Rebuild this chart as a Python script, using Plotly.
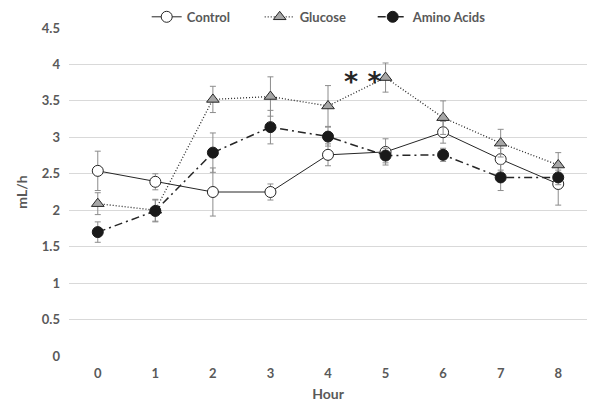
import plotly.graph_objects as go

hours = [0, 1, 2, 3, 4, 5, 6, 7, 8]

control = [2.54, 2.39, 2.25, 2.25, 2.76, 2.80, 3.07, 2.70, 2.36]
control_err = [0.27, 0.11, 0.33, 0.11, 0.15, 0.18, 0.15, 0.15, 0.29]

glucose = [2.09, 2.00, 3.52, 3.56, 3.43, 3.82, 3.27, 2.92, 2.62]
glucose_err = [0.15, 0.15, 0.18, 0.27, 0.28, 0.20, 0.23, 0.19, 0.17]

amino = [1.70, 1.99, 2.79, 3.14, 3.01, 2.75, 2.76, 2.45, 2.45]
amino_err = [0.14, 0.15, 0.27, 0.23, 0.13, 0.10, 0.09, 0.18, 0.10]

y_ticks = [0, 0.5, 1, 1.5, 2, 2.5, 3, 3.5, 4, 4.5]
y_ticktext = ["0", "0.5", "1", "1.5", "2", "2.5", "3", "3.5", "4", "4.5"]

font_family = "Lato, 'Open Sans', sans-serif"
gray_text = "#595959"
err_color = "#8c8c8c"

fig = go.Figure()

fig.add_trace(go.Scatter(
    x=hours, y=control, name="Control", mode="lines+markers",
    line=dict(color="#262626", width=1, dash="solid"),
    marker=dict(symbol="circle", size=11, color="white", line=dict(color="#262626", width=1)),
    error_y=dict(type="data", array=control_err, color=err_color, thickness=1, width=3),
))
fig.add_trace(go.Scatter(
    x=hours, y=glucose, name="Glucose", mode="lines+markers",
    line=dict(color="#262626", width=1.3, dash="1px,2px"),
    marker=dict(symbol="triangle-up", size=11, color="#a6a6a6", line=dict(color="#262626", width=1)),
    error_y=dict(type="data", array=glucose_err, color=err_color, thickness=1, width=3),
))
fig.add_trace(go.Scatter(
    x=hours, y=amino, name="Amino Acids", mode="lines+markers",
    line=dict(color="#262626", width=1.5, dash="8px,4px,2px,4px"),
    marker=dict(symbol="circle", size=11, color="#1a1a1a", line=dict(color="#1a1a1a", width=1)),
    error_y=dict(type="data", array=amino_err, color=err_color, thickness=1, width=3),
))

fig.add_annotation(x=4.6, y=3.76, text="<b>* *</b>", showarrow=False,
                   font=dict(size=27, color="#262626", family="DejaVu Sans"))

# page body has an 8px default margin, so the figure is sized/offset to compensate
fig.update_layout(
    width=595, height=394,
    margin=dict(l=61, r=16, t=20, b=46, autoexpand=False),
    paper_bgcolor="white", plot_bgcolor="white",
    font=dict(family=font_family, color=gray_text, size=13),
    showlegend=True,
    legend=dict(orientation="h", x=0.150, xanchor="left", y=1.034, yanchor="middle",
                font=dict(size=13, color=gray_text, family=font_family, weight="bold"),
                itemwidth=30, entrywidth=68, tracegroupgap=0, bgcolor="rgba(0,0,0,0)"),
    xaxis=dict(range=[-0.5, 8.5], tickmode="array", tickvals=hours, automargin=False,
               ticktext=[str(h) for h in hours], showgrid=False, zeroline=False,
               showline=False, ticks="", tickfont=dict(size=13, color=gray_text, weight="bold"),
               ticklabelstandoff=8,
               title=dict(text="Hour", font=dict(size=14, color=gray_text, weight="bold"), standoff=10)),
    yaxis=dict(range=[0, 4.5], tickmode="array", tickvals=y_ticks, ticktext=y_ticktext,
               automargin=False,
               showgrid=True, gridcolor="#d9d9d9", gridwidth=1, zeroline=False,
               showline=False, ticks="", tickfont=dict(size=13, color=gray_text, weight="bold"),
               ticklabelstandoff=8,
               title=dict(text="mL/h", font=dict(size=14, color=gray_text, weight="bold"), standoff=10)),
)

fig.write_html("out.html")
